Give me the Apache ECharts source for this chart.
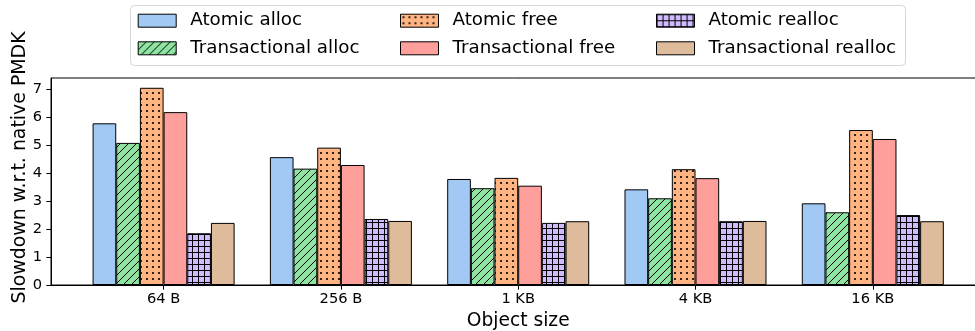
<!DOCTYPE html>
<html>
<head>
<meta charset="utf-8">
<script src="https://cdn.jsdelivr.net/npm/echarts@6/dist/echarts.min.js"></script>
<style>
  html, body { margin: 0; padding: 0; background: #fff; }
  #chart { width: 975px; height: 331px; }
</style>
</head>
<body>
<div id="chart"></div>
<script>
// Object sizes on the x axis
const categories = ['64 B', '256 B', '1 KB', '4 KB', '16 KB'];

// Slowdown relative to native PMDK, one array per operation
const atomicAlloc        = [5.78, 4.57, 3.79, 3.42, 2.92];
const transactionalAlloc = [5.08, 4.16, 3.46, 3.10, 2.60];
const atomicFree         = [7.05, 4.91, 3.83, 4.14, 5.54];
const transactionalFree  = [6.18, 4.29, 3.55, 3.82, 5.22];
const atomicRealloc      = [1.85, 2.36, 2.22, 2.28, 2.50];
const transactionalRealloc = [2.22, 2.29, 2.28, 2.29, 2.28];

const yTicks = [0, 1, 2, 3, 4, 5, 6, 7];

const FONT = 'DejaVu Sans';

// Small repeating tiles used as hatched fills
function tile(bg, kind) {
  const size = kind === 'diag' ? 8 : 6;
  const c = document.createElement('canvas');
  c.width = size; c.height = size;
  const ctx = c.getContext('2d');
  ctx.fillStyle = bg;
  ctx.fillRect(0, 0, size, size);
  ctx.fillStyle = '#000';
  ctx.strokeStyle = '#000';
  if (kind === 'diag') {
    ctx.lineWidth = 1;
    ctx.beginPath();
    for (const o of [-size, 0, size]) {
      ctx.moveTo(o, size);
      ctx.lineTo(o + size, 0);
    }
    ctx.stroke();
  } else if (kind === 'dots') {
    ctx.beginPath();
    ctx.arc(3, 3, 1.1, 0, Math.PI * 2);
    ctx.fill();
  } else if (kind === 'grid') {
    ctx.fillRect(0, 0, size, 1);
    ctx.fillRect(0, 0, 1, size);
  }
  return { image: c, repeat: 'repeat' };
}

const seriesDefs = [
  { name: 'Atomic alloc',          values: atomicAlloc,          fill: '#a1c9f4' },
  { name: 'Transactional alloc',   values: transactionalAlloc,   fill: tile('#8de5a1', 'diag') },
  { name: 'Atomic free',           values: atomicFree,           fill: tile('#ffb482', 'dots') },
  { name: 'Transactional free',    values: transactionalFree,    fill: '#ff9f9b' },
  { name: 'Atomic realloc',        values: atomicRealloc,        fill: tile('#d0bbff', 'grid') },
  { name: 'Transactional realloc', values: transactionalRealloc, fill: '#debb9b' }
];

const barWidth = 23.67;

const series = seriesDefs.map(d => ({
  name: d.name,
  type: 'bar',
  barWidth: barWidth,
  barGap: '0%',
  data: categories.map((_, i) => [i, d.values[i]]),
  itemStyle: { color: d.fill, borderColor: '#000', borderWidth: 1 },
  emphasis: { disabled: true }
}));

function legendColumn(names, left) {
  return {
    data: names,
    orient: 'vertical',
    left: left,
    top: 10.7,
    padding: 0,
    itemWidth: 38,
    itemHeight: 13,
    itemGap: 7.6,
    icon: 'rect',
    selectedMode: false,
    itemStyle: { borderColor: '#000', borderWidth: 1 },
    textStyle: {
      fontFamily: FONT,
      fontSize: 18.3,
      color: '#000',
      lineHeight: 20,
      padding: [0, 0, 0, 9]
    }
  };
}

const chart = echarts.init(document.getElementById('chart'), null, { renderer: 'canvas' });

chart.setOption({
  animation: false,
  backgroundColor: '#fff',
  graphic: [{
    type: 'rect',
    z: 0,
    silent: true,
    shape: { x: 130.5, y: 5.5, width: 775, height: 60, r: 4 },
    style: { fill: '#fff', stroke: '#d6d6d6', lineWidth: 1 }
  }],
  legend: [
    legendColumn(['Atomic alloc', 'Transactional alloc'], 137.7),
    legendColumn(['Atomic free', 'Transactional free'], 400),
    legendColumn(['Atomic realloc', 'Transactional realloc'], 656)
  ],
  grid: {
    left: 51,
    top: 78,
    width: 934.4,
    bottom: 46,
    show: true,
    borderColor: '#000',
    borderWidth: 1,
    backgroundColor: 'transparent',
    containLabel: false,
    outerBoundsMode: 'none'
  },
  xAxis: {
    type: 'value',
    min: -0.635,
    max: 4.635,
    name: 'Object size',
    nameLocation: 'middle',
    nameGap: 24,
    nameTextStyle: { fontFamily: FONT, fontSize: 18.67, color: '#000' },
    axisLine: { show: true, onZero: false, lineStyle: { color: '#000', width: 1 } },
    axisTick: {
      show: true, inside: false, length: 4.67,
      customValues: categories.map((_, i) => i),
      lineStyle: { color: '#000', width: 1 }
    },
    axisLabel: {
      customValues: categories.map((_, i) => i),
      formatter: v => categories[Math.round(v)],
      fontFamily: FONT, fontSize: 14.67, color: '#000', margin: 7
    },
    splitLine: { show: false }
  },
  yAxis: {
    type: 'value',
    min: 0,
    max: 7.4,
    name: 'Slowdown w.r.t. native PMDK',
    nameLocation: 'middle',
    nameGap: 21,
    nameMoveOverlap: false,
    nameTextStyle: {
      fontFamily: FONT, fontSize: 18.9, color: '#000',
      padding: [0, 0, 0, 28]
    },
    axisLine: { show: true, onZero: false, lineStyle: { color: '#000', width: 1 } },
    axisTick: {
      show: true, inside: false, length: 4.67,
      customValues: yTicks,
      lineStyle: { color: '#000', width: 1 }
    },
    axisLabel: {
      customValues: yTicks,
      fontFamily: FONT, fontSize: 14.67, color: '#000', margin: 9
    },
    splitLine: { show: false }
  },
  series: series
});
</script>
</body>
</html>
